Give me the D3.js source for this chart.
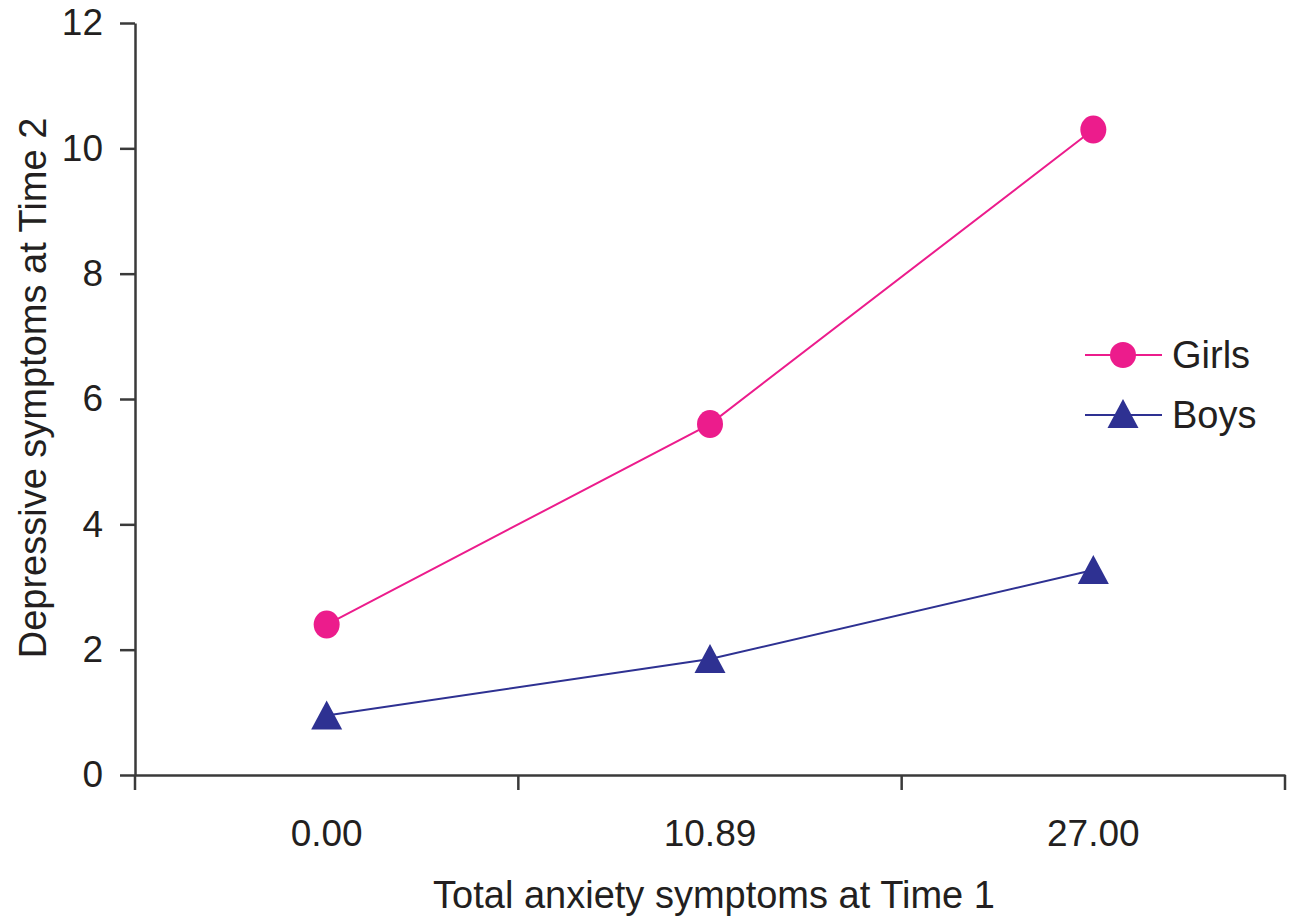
<!DOCTYPE html>
<html lang="en">
<head>
  <meta charset="UTF-8">
  <title>Depressive symptoms by anxiety symptoms</title>
  <script src="https://d3js.org/d3.v7.min.js"></script>
  <style>
    body { margin: 0; background: #fff; }
    text { font-family: "Liberation Sans", Arial, sans-serif; fill: #231f20; }
    .axis-label { font-size: 38px; }
    .legend-label { font-size: 38px; }
  </style>
</head>
<body>
  <div id="chart"></div>
  <script>
    // data
    const categories = ["0.00", "10.89", "27.00"];
    const girls = [2.4, 5.6, 10.3];
    const boys = [0.95, 1.85, 3.27];
    const yTicks = [0, 2, 4, 6, 8, 10, 12];

    const width = 1297, height = 922;
    const margin = { top: 23, right: 12, bottom: 147, left: 135 };
    const innerW = width - margin.left - margin.right;
    const innerH = height - margin.top - margin.bottom;

    const axisColor = "#3a3a3a";
    const pink = "#ec1c8c";
    const navy = "#2e3192";

    const svg = d3.select("#chart")
      .append("svg")
      .attr("width", width)
      .attr("height", height)
      .append("g")
      .attr("transform", `translate(${margin.left},${margin.top})`);

    // scales
    const x = d3.scaleBand()
      .domain(categories)
      .range([0, innerW])
      .padding(0);

    const y = d3.scaleLinear()
      .domain([0, 12])
      .range([innerH, 0]);

    // y axis
    const yAxis = svg.append("g")
      .call(d3.axisLeft(y).tickValues(yTicks).tickSize(15).tickPadding(17).tickSizeOuter(0));
    yAxis.attr("font-family", null).attr("font-size", null);
    yAxis.select(".domain").attr("stroke", axisColor).attr("stroke-width", 2.5);
    yAxis.selectAll(".tick line").attr("stroke", axisColor).attr("stroke-width", 2.5);
    yAxis.selectAll(".tick text")
      .style("font-size", "37px")
      .attr("fill", "#231f20");

    // x axis: labels centred in bands, ticks on band edges
    const xAxis = svg.append("g")
      .attr("transform", `translate(0,${innerH})`)
      .call(d3.axisBottom(x).tickSize(0).tickPadding(45).tickSizeOuter(0));
    xAxis.attr("font-family", null).attr("font-size", null);
    xAxis.select(".domain").attr("stroke", axisColor).attr("stroke-width", 2.5);
    xAxis.selectAll(".tick text")
      .style("font-size", "37px")
      .attr("fill", "#231f20");

    const edges = categories.map(d => x(d)).concat([x(categories[categories.length - 1]) + x.bandwidth()]);
    xAxis.selectAll(".edge")
      .data(edges)
      .enter()
      .append("line")
      .attr("class", "edge")
      .attr("x1", d => d).attr("x2", d => d)
      .attr("y1", 0).attr("y2", 15)
      .attr("stroke", axisColor)
      .attr("stroke-width", 2.5);

    const cx = d => x(d) + x.bandwidth() / 2;

    // lines
    const line = d3.line()
      .x((d, i) => cx(categories[i]))
      .y(d => y(d));

    svg.append("path")
      .datum(girls)
      .attr("d", line)
      .attr("fill", "none")
      .attr("stroke", pink)
      .attr("stroke-width", 2);

    svg.append("path")
      .datum(boys)
      .attr("d", line)
      .attr("fill", "none")
      .attr("stroke", navy)
      .attr("stroke-width", 2);

    // markers - triangle a little taller than equilateral, like the original
    const tallTriangle = {
      draw(ctx) {
        ctx.moveTo(0, -15);
        ctx.lineTo(15.5, 14);
        ctx.lineTo(-15.5, 14);
        ctx.closePath();
      }
    };
    const tri = d3.symbol().type(tallTriangle);

    svg.selectAll(".girl")
      .data(girls)
      .enter()
      .append("ellipse")
      .attr("class", "girl")
      .attr("cx", (d, i) => cx(categories[i]))
      .attr("cy", d => y(d))
      .attr("rx", 13)
      .attr("ry", 14)
      .attr("fill", pink);

    svg.selectAll(".boy")
      .data(boys)
      .enter()
      .append("path")
      .attr("class", "boy")
      .attr("d", tri)
      .attr("transform", (d, i) => `translate(${cx(categories[i])},${y(d)})`)
      .attr("fill", navy);

    // legend
    const legend = svg.append("g")
      .attr("transform", `translate(${1085 - margin.left},${355 - margin.top})`);

    legend.append("line")
      .attr("x1", 0).attr("x2", 77).attr("y1", 0).attr("y2", 0)
      .attr("stroke", pink).attr("stroke-width", 2);
    legend.append("ellipse")
      .attr("cx", 38).attr("cy", 0).attr("rx", 13).attr("ry", 13)
      .attr("fill", pink);
    legend.append("text")
      .attr("class", "legend-label")
      .attr("x", 87).attr("y", 13)
      .text("Girls");

    legend.append("line")
      .attr("x1", 0).attr("x2", 77).attr("y1", 60).attr("y2", 60)
      .attr("stroke", navy).attr("stroke-width", 2);
    legend.append("path")
      .attr("d", tri)
      .attr("transform", "translate(38,59)")
      .attr("fill", navy);
    legend.append("text")
      .attr("class", "legend-label")
      .attr("x", 87).attr("y", 73)
      .text("Boys");

    // axis titles
    svg.append("text")
      .attr("class", "axis-label")
      .attr("x", innerW / 2 + 4)
      .attr("y", innerH + 133)
      .attr("text-anchor", "middle")
      .text("Total anxiety symptoms at Time 1");

    svg.append("text")
      .attr("class", "axis-label")
      .attr("transform", "rotate(-90)")
      .attr("x", -innerH / 2 + 11)
      .attr("y", -margin.left + 46)
      .attr("text-anchor", "middle")
      .text("Depressive symptoms at Time 2");
  </script>
</body>
</html>
